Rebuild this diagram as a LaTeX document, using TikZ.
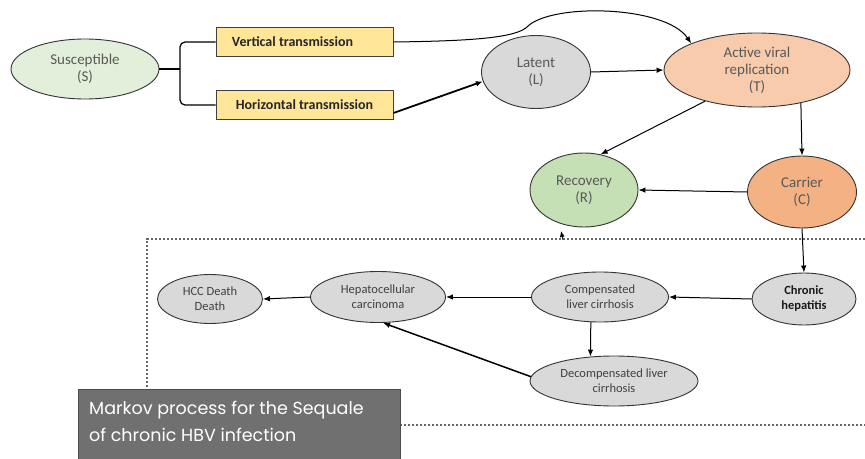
\documentclass[tikz,border=0pt]{standalone}
\usepackage{fontspec}
\setmainfont{Carlito}
\newfontfamily\gothic{Poppins}
\usetikzlibrary{shapes.geometric,arrows.meta}

\definecolor{lightgreen}{HTML}{E2EFDA}
\definecolor{midgreen}{HTML}{C5E0B4}
\definecolor{paleorange}{HTML}{F8CBAD}
\definecolor{deeporange}{HTML}{F4B183}
\definecolor{stategray}{HTML}{D9D9D9}
\definecolor{paleyellow}{HTML}{FFE699}
\definecolor{labelgray}{HTML}{595959}
\definecolor{bannergray}{HTML}{707070}

\tikzset{
  state/.style={ellipse, draw=black!80, line width=0.9pt, inner sep=0pt,
    align=center, text=labelgray, font=\fontsize{15}{17}\selectfont},
  sequel/.style={state, fill=stategray, text=black!75,
    font=\fontsize{12.5}{15}\selectfont},
  route/.style={rectangle, draw=black!75, line width=0.9pt, fill=paleyellow,
    minimum width=177pt, minimum height=29pt, inner sep=0pt,
    font=\bfseries\fontsize{14}{16}\selectfont, text=black!85},
  flow/.style={line width=1pt, -{Latex[length=7pt,width=5.5pt]}},
  boxline/.style={line width=2.2pt, dash pattern=on 2.2pt off 1.8pt, black!60},
}

\begin{document}
\begin{tikzpicture}[x=1pt,y=-1pt]
\useasboundingbox (0,0) rectangle (865,458);

% infection stages
\node[state, fill=lightgreen, minimum width=148pt, minimum height=60pt] (S) at (85,69) {Susceptible\\(S)};
\node[route] (V) at (304.5,42) {\hspace*{-24pt}Vertical transmission};
\node[route] (H) at (304.5,105) {Horizontal transmission};
\node[state, fill=stategray, minimum width=109pt, minimum height=73pt] (L) at (536,72) {Latent\\(L)};
\node[state, fill=paleorange, minimum width=186pt, minimum height=74pt] (T) at (757,70) {Active viral\\replication\\(T)};
\node[state, fill=midgreen, minimum width=108pt, minimum height=74pt] (R) at (584,190) {Recovery\\(R)};
\node[state, fill=deeporange, minimum width=109pt, minimum height=72pt] (C) at (802,192) {Carrier\\(C)};

% sequelae of chronic infection
\node[sequel, minimum width=105pt, minimum height=49pt] (HD) at (210,299) {HCC Death\\Death};
\node[sequel, minimum width=135pt, minimum height=51pt] (HCC) at (378,297) {Hepatocellular\\carcinoma};
\node[sequel, minimum width=137pt, minimum height=50pt] (CLC) at (600,297) {Compensated\\liver cirrhosis};
\node[sequel, minimum width=104pt, minimum height=52pt, text=black!90] (CH) at (804,299) {\textbf{Chronic}\\\textbf{hepatitis}};
\node[sequel, minimum width=168pt, minimum height=50pt] (DLC) at (614,381) {Decompensated liver\\cirrhosis};

% dotted frame around the Markov part
\coordinate (fTR) at (865,239);
\coordinate (fTL) at (147,239);
\coordinate (fBL) at (147,389);
\coordinate (fBS) at (400,425);
\coordinate (fBR) at (865,425);
\draw[boxline] (fTR) -- (fTL) -- (fBL);
\draw[boxline] (fBS) -- (fBR);

% banner
\node[rectangle, draw=black!70, line width=0.8pt, fill=bannergray, anchor=north west,
  minimum width=322pt, minimum height=72pt, inner sep=0pt] (banner) at (78,389) {};
\node[anchor=north west, align=left, text=white, inner sep=0pt,
  font=\gothic\fontsize{17.5}{27}\selectfont] (bannertext) at (89,401)
  {Markov process for the Sequale\\of chronic HBV infection};

% branching from the susceptible state
\coordinate (fork) at (180,69);
\draw[line width=1.2pt] (S.east) -- (fork);
\draw[line width=1.2pt, rounded corners=5pt] (V.west) -| (fork) |- (H.west);

% transitions
\draw[flow] (V.east) .. controls (470,41) and (515,38) .. (527,27)
  .. controls (550,3) and (665,5) .. (T.158);
\draw[flow, line width=1.8pt] ([yshift=-8pt]H.east) -- (L.190);
\draw[flow] (L.east) -- (T.west);
\draw[flow] (T.211) -- (R.65);
\draw[flow] (T.-37) -- (C.north);
\draw[flow] (C.west) -- (R.east);
\draw[flow] (C.south) -- (CH.north);
\draw[flow] (CH.west) -- (CLC.east);
\draw[flow] (CLC.west) -- (HCC.east);
\draw[flow] (HCC.west) -- (HD.east);
\draw[flow] (CLC.-110) -- (DLC.134);
\draw[flow, line width=1.5pt] (DLC.177) -- (HCC.-79);

% short stub on the frame
\coordinate (stub) at (563,240);
\coordinate (stubtip) at (561,231);
\draw[-{Latex[length=6pt,width=5pt]}, line width=0.8pt] (stub) -- (stubtip);
\end{tikzpicture}
\end{document}
